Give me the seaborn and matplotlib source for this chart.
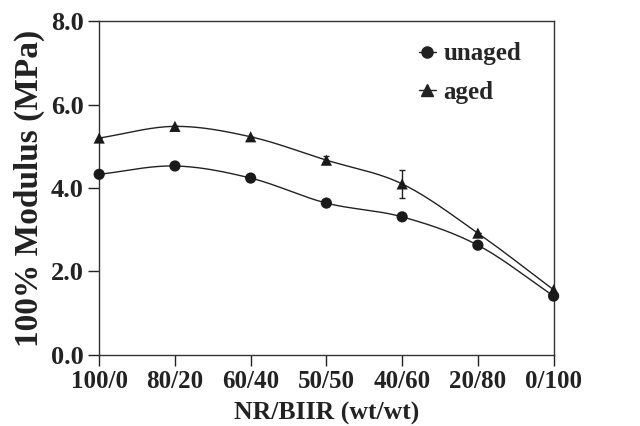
import numpy as np
import pandas as pd
import matplotlib
matplotlib.use("Agg")
import matplotlib.pyplot as plt
import seaborn as sns
from matplotlib.lines import Line2D

categories = ["100/0", "80/20", "60/40", "50/50", "40/60", "20/80", "0/100"]
unaged = [4.33, 4.53, 4.24, 3.64, 3.31, 2.63, 1.41]
aged = [5.20, 5.48, 5.23, 4.67, 4.10, 2.92, 1.56]
aged_err = [0.0, 0.0, 0.0, 0.10, 0.33, 0.0, 0.0]
yticks = [0.0, 2.0, 4.0, 6.0, 8.0]

sns.set_theme(style="ticks")
plt.rcParams["font.family"] = ["Liberation Serif", "DejaVu Serif"]
plt.rcParams["font.weight"] = "bold"

def smooth(x, y, n=30):
    # Catmull-Rom style smoothing of the line through the data points
    x = np.asarray(x, float); y = np.asarray(y, float)
    px = np.concatenate([[2*x[0]-x[1]], x, [2*x[-1]-x[-2]]])
    py = np.concatenate([[2*y[0]-y[1]], y, [2*y[-1]-y[-2]]])
    xs, ys = [], []
    for i in range(1, len(px)-2):
        t = np.linspace(0, 1, n, endpoint=False)
        for arr, out in ((px, xs), (py, ys)):
            p0, p1, p2, p3 = arr[i-1], arr[i], arr[i+1], arr[i+2]
            out.extend(0.5*((2*p1) + (-p0+p2)*t + (2*p0-5*p1+4*p2-p3)*t**2 + (-p0+3*p1-3*p2+p3)*t**3))
    xs.append(x[-1]); ys.append(y[-1])
    return np.array(xs), np.array(ys)

pos = np.arange(len(categories))
fig, ax = plt.subplots(figsize=(6.4, 4.26), dpi=100)
fig.subplots_adjust(left=0.155, right=0.865, top=0.95, bottom=0.167)

for vals in (unaged, aged):
    sx, sy = smooth(pos, vals)
    sns.lineplot(x=sx, y=sy, ax=ax, color="#222222", lw=1.0, sort=False, clip_on=False)

df = pd.DataFrame({"x": np.concatenate([pos, pos]),
                   "y": unaged + aged,
                   "series": ["unaged"]*7 + ["aged"]*7})
sns.scatterplot(data=df, x="x", y="y", style="series", markers={"unaged": "o", "aged": "^"},
                color="#1a1a1a", s=65, edgecolor="none", ax=ax, legend=False, clip_on=False, zorder=5)
ax.errorbar(pos, aged, yerr=aged_err, fmt="none", ecolor="#222222", elinewidth=1.0, capsize=2.5, capthick=1.0)

ax.set_xlim(0, 6)
ax.set_ylim(0, 8)
ax.set_xticks(pos)
ax.set_xticklabels(categories)
ax.set_yticks(yticks)
ax.set_yticklabels([f"{v:.1f}" for v in yticks])
ax.tick_params(axis="both", direction="out", length=8, width=1.0, color="#222222",
               labelsize=18, labelcolor="#222222", pad=3)
for lab in ax.get_xticklabels() + ax.get_yticklabels():
    lab.set_fontweight("bold")
for lab in ax.get_yticklabels():
    lab.set_fontsize(19)
for sp in ax.spines.values():
    sp.set_visible(True)
    sp.set_color("#333333")
    sp.set_linewidth(1.0)
ax.set_xlabel("NR/BIIR (wt/wt)", fontsize=18.5, fontweight="bold", color="#222222", labelpad=6)
ax.set_ylabel("100% Modulus (MPa)", fontsize=24, fontweight="bold", color="#222222", labelpad=4)

handles = [Line2D([], [], color="#222222", marker="o", lw=1.0, markersize=8),
           Line2D([], [], color="#222222", marker="^", lw=1.0, markersize=8)]
ax.legend(handles, ["unaged", "aged"], loc="upper left", bbox_to_anchor=(0.703, 0.937),
          frameon=False, handlelength=0.7, handletextpad=0.3, labelspacing=0.62,
          borderpad=0, borderaxespad=0, prop={"weight": "bold", "size": 18})

fig.savefig("out.png", dpi=100)
